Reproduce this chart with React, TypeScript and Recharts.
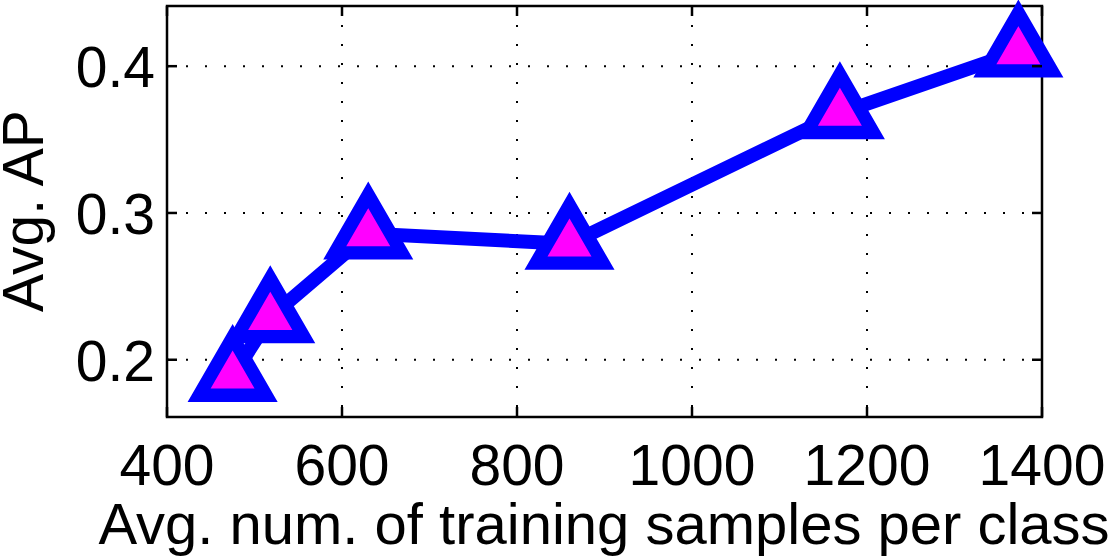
import React from 'react';
import { LineChart, Line, XAxis, YAxis, CartesianGrid, ReferenceArea } from 'recharts';

// values
const samplesPerClass = [475, 518, 630, 860, 1169, 1373];
const avgAP = [0.189, 0.229, 0.286, 0.279, 0.368, 0.41];
const xTicks = [400, 600, 800, 1000, 1200, 1400];
const yTicks = [0.2, 0.3, 0.4];
const xDomain = [400, 1400];
const yDomain = [0.161, 0.441];

const data = samplesPerClass.map((x, i) => ({ x, ap: avgAP[i] }));

const W = 1116;
const H = 560;
const PLOT = { left: 167, right: 1042, top: 6, bottom: 417 };
const FONT = '"Liberation Sans", Arial, Helvetica, sans-serif';
const FS = 57;
const TICK_LEN = 10;

const XTick = (props: any) => {
  const { x, payload } = props;
  return (
    <g>
      <line x1={x} x2={x} y1={PLOT.bottom} y2={PLOT.bottom - TICK_LEN} stroke="#000" strokeWidth={2.5} />
      <line x1={x} x2={x} y1={PLOT.top} y2={PLOT.top + TICK_LEN} stroke="#000" strokeWidth={2.5} />
      <text x={x} y={485} textAnchor="middle" fontFamily={FONT} fontSize={FS} fill="#000">
        {payload.value}
      </text>
    </g>
  );
};

const YTick = (props: any) => {
  const { y, payload } = props;
  return (
    <g>
      <line x1={PLOT.left} x2={PLOT.left + TICK_LEN} y1={y} y2={y} stroke="#000" strokeWidth={2.5} />
      <line x1={PLOT.right} x2={PLOT.right - TICK_LEN} y1={y} y2={y} stroke="#000" strokeWidth={2.5} />
      <text x={155} y={y + 21} textAnchor="end" fontFamily={FONT} fontSize={FS} fill="#000">
        {payload.value.toFixed(1)}
      </text>
    </g>
  );
};

// matlab '^' marker, centred on the triangle's centroid
const Triangle = (props: any) => {
  const { cx, cy } = props;
  if (cx == null || cy == null) return null;
  const R = 38.7;
  const hx = R * Math.cos(Math.PI / 6);
  const d = `M${cx},${cy - R} L${cx + hx},${cy + R / 2} L${cx - hx},${cy + R / 2} Z`;
  return <path d={d} fill="#ff00ff" stroke="#0000ff" strokeWidth={13.3} strokeLinejoin="miter" />;
};

export default function App() {
  return (
    <div style={{ position: 'absolute', left: 0, top: 0, width: W, height: H, background: '#fff' }}>
      <LineChart width={W} height={H} data={data} margin={{ top: PLOT.top, right: W - PLOT.right, left: 0, bottom: 0 }}>
        <CartesianGrid stroke="#000" strokeWidth={2} strokeDasharray="2 17" />
        <XAxis
          dataKey="x"
          type="number"
          domain={xDomain}
          ticks={xTicks}
          interval={0}
          height={H - PLOT.bottom}
          axisLine={false}
          tickLine={false}
          tickSize={0}
          tick={<XTick />}
        />
        <YAxis
          type="number"
          domain={yDomain}
          ticks={yTicks}
          interval={0}
          width={PLOT.left}
          axisLine={false}
          tickLine={false}
          tickSize={0}
          tick={<YTick />}
        />
        <ReferenceArea
          x1={xDomain[0]}
          x2={xDomain[1]}
          y1={yDomain[0]}
          y2={yDomain[1]}
          fill="none"
          stroke="#000"
          strokeWidth={2.5}
          ifOverflow="visible"
        />
        <Line
          type="linear"
          dataKey="ap"
          stroke="#0000ff"
          strokeWidth={14}
          dot={<Triangle />}
          activeDot={false}
          isAnimationActive={false}
        />
        <text x={604} y={544} textAnchor="middle" fontFamily={FONT} fontSize={58} fill="#000">
          Avg. num. of training samples per class
        </text>
        <text
          x={43}
          y={211}
          textAnchor="middle"
          fontFamily={FONT}
          fontSize={FS}
          fill="#000"
          transform="rotate(-90 43 211)"
        >
          Avg. AP
        </text>
      </LineChart>
    </div>
  );
}
